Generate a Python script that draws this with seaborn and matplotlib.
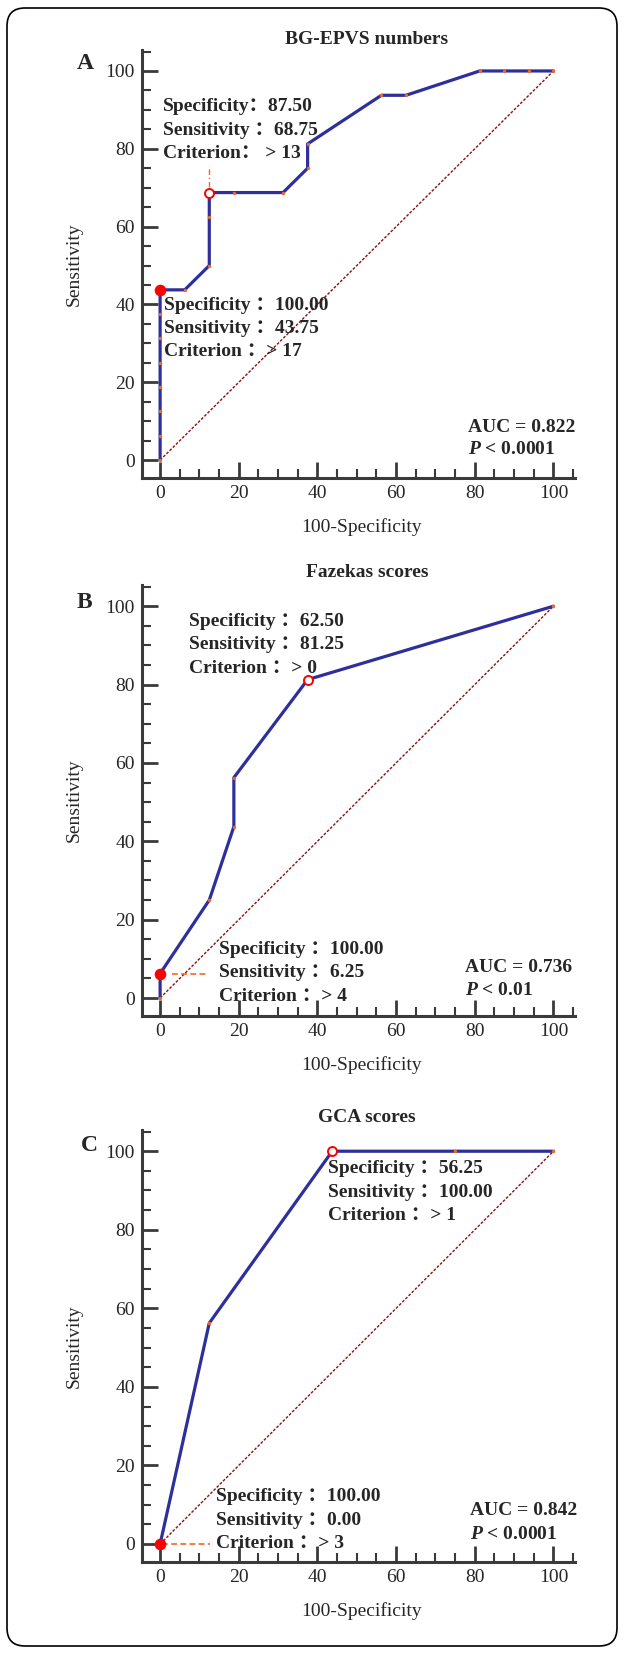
import matplotlib
matplotlib.use("Agg")
import matplotlib.pyplot as plt
import seaborn as sns
import pandas as pd
from matplotlib.patches import FancyBboxPatch
from matplotlib.ticker import MultipleLocator

# ROC points (100-Specificity, Sensitivity)
bg_fpr = [0, 0, 0, 0, 0, 0, 0, 0, 6.25, 12.5, 12.5, 12.5, 18.75, 31.25, 37.5, 37.5, 56.25, 62.5, 81.25, 87.5, 93.75, 100]
bg_sens = [0, 6.25, 12.5, 18.75, 25, 31.25, 37.5, 43.75, 43.75, 50, 62.5, 68.75, 68.75, 68.75, 75, 81.25, 93.75, 93.75, 100, 100, 100, 100]
faz_fpr = [0, 0, 12.5, 18.75, 18.75, 37.5, 100]
faz_sens = [0, 6.25, 25, 43.75, 56.25, 81.25, 100]
gca_fpr = [0, 12.5, 43.75, 75, 100]
gca_sens = [0, 56.25, 100, 100, 100]

titles = ["BG-EPVS numbers", "Fazekas scores", "GCA scores"]
letters = ["A", "B", "C"]
auc_vals = ["0.822", "0.736", "0.842"]
p_vals = ["< 0.0001", "< 0.01", "< 0.0001"]

# best cut-off (open circle) and high-specificity cut-off (filled dot)
open_pts = [(12.5, 68.75), (37.5, 81.25), (43.75, 100)]
filled_pts = [(0, 43.75), (0, 6.25), (0, 0)]
open_txt = [("87.50", "68.75", "> 13"), ("62.50", "81.25", "> 0"), ("56.25", "100.00", "> 1")]
filled_txt = [("100.00", "43.75", "> 17"), ("100.00", "6.25", "> 4"), ("100.00", "0.00", "> 3")]
row_names = ["Specificity", "Sensitivity", "Criterion"]

sns.set_style("ticks")
plt.rcParams['font.family'] = ['Liberation Serif', 'Noto Sans CJK SC']
plt.rcParams['mathtext.fontset'] = 'custom'
plt.rcParams['mathtext.it'] = 'Liberation Serif:italic:bold'
plt.rcParams['mathtext.rm'] = 'Liberation Serif:bold'

fig = plt.figure(figsize=(6.24, 16.54), dpi=100)

# frame round the whole figure
frame = FancyBboxPatch((0.07, 0.08), 6.10, 16.38, boxstyle="round,pad=0,rounding_size=0.18",
                       transform=fig.dpi_scale_trans, fill=False, ec="black", lw=1.2)
fig.add_artist(frame)

axes_pos = [[0.2276, 0.7110, 0.694, 0.2588],
            [0.2276, 0.3857, 0.694, 0.2606],
            [0.2276, 0.0556, 0.694, 0.2612]]
title_y = [0.9764, 0.6536, 0.3241]
letter_y = [0.9619, 0.6360, 0.3077]
letter_x = [0.136, 0.135, 0.143]

# text placement per panel (data coords): open block, filled block, AUC block
open_xy = [(0.8, 90.8), (7.3, 96.2), (42.8, 95.6)]
filled_xy = [(1.0, 39.8), (15.0, 12.5), (14.1, 12.0)]
auc_xy = [(78.2, 8.5), (77.5, 7.9), (78.7, 8.4)]

curves = [(bg_fpr, bg_sens), (faz_fpr, faz_sens), (gca_fpr, gca_sens)]

blue = "#2f2f9c"
orange = "#f26a21"
spine_c = "#3a3a3a"
fs = 14

for i in range(3):
    ax = fig.add_axes(axes_pos[i])
    fpr, sens = curves[i]
    df = pd.DataFrame({"fpr": fpr, "sens": sens})

    # reference diagonal
    diag = pd.DataFrame({"fpr": [0, 100], "sens": [0, 100]})
    sns.lineplot(data=diag, x="fpr", y="sens", ax=ax, color="#8b1010", lw=1.0,
                 linestyle=(0, (2, 1.2)), estimator=None, sort=False)

    sns.lineplot(data=df, x="fpr", y="sens", ax=ax, color=blue, lw=2.3,
                 estimator=None, sort=False)
    sns.scatterplot(data=df, x="fpr", y="sens", ax=ax, color=orange, s=6,
                    linewidth=0, zorder=4)

    ox, oy = open_pts[i]
    fx, fy = filled_pts[i]
    # guide lines from the cut-off markers
    if i == 0:
        ax.plot([ox, ox], [oy + 1.5, 75.5], color=orange, lw=1.0, linestyle=(0, (4, 2, 1, 2)))
    elif i == 1:
        ax.plot([3, 12.2], [fy, fy], color=orange, lw=1.2, linestyle=(0, (3.5, 2)))
    else:
        ax.plot([0.6, 12.6], [fy, fy], color=orange, lw=1.2, linestyle=(0, (3.5, 2)))

    ax.scatter([ox], [oy], s=42, facecolor="white", edgecolor="red", linewidth=1.4, zorder=6)
    ax.scatter([fx], [fy], s=70, color="red", linewidth=0, zorder=6)

    for b, (block_xy, vals) in enumerate(((open_xy[i], open_txt[i]), (filled_xy[i], filled_txt[i]))):
        bx, by = block_xy
        for k in range(3):
            sep = " ："
            if i == 0 and b == 0 and k == 0:
                sep = "："
            elif i == 0 and b == 0 and k == 2:
                sep = "： "
            ax.text(bx, by - 6.0 * k, row_names[k] + sep + vals[k], ha="left", va="center",
                    fontsize=fs, fontweight="bold", zorder=7)

    axx, axy = auc_xy[i]
    ax.text(axx, axy, "AUC = " + auc_vals[i], ha="left", va="center", fontsize=fs,
            fontweight="bold", family="Liberation Serif")
    ax.text(axx, axy - 5.9, r"$P$ " + p_vals[i], ha="left", va="center", fontsize=fs,
            fontweight="bold", family="Liberation Serif")

    ax.set_xlim(-4.6, 105.5)
    ax.set_ylim(-4.6, 105.4)
    ax.xaxis.set_major_locator(MultipleLocator(20))
    ax.xaxis.set_minor_locator(MultipleLocator(5))
    ax.yaxis.set_major_locator(MultipleLocator(20))
    ax.yaxis.set_minor_locator(MultipleLocator(5))
    ax.tick_params(which="major", direction="in", length=11.5, width=2.0, color=spine_c,
                   labelsize=fs, pad=5)
    ax.tick_params(which="minor", direction="in", length=6.5, width=1.5, color=spine_c)
    for side in ("top", "right"):
        ax.spines[side].set_visible(False)
    for side in ("left", "bottom"):
        ax.spines[side].set_linewidth(2.2)
        ax.spines[side].set_color(spine_c)

    ax.set_xlabel("100-Specificity", fontsize=fs, va="center")
    ax.set_ylabel("Sensitivity", fontsize=fs, va="center")
    ax.xaxis.set_label_coords(0.508, -0.114)
    ax.yaxis.set_label_coords(-0.157, 0.5)

    fig.text(0.588, title_y[i], titles[i], ha="center", va="center", fontsize=fs,
             fontweight="bold")
    fig.text(letter_x[i], letter_y[i], letters[i], ha="center", va="center", fontsize=17,
             fontweight="bold")

fig.savefig("out.png", dpi=100)
